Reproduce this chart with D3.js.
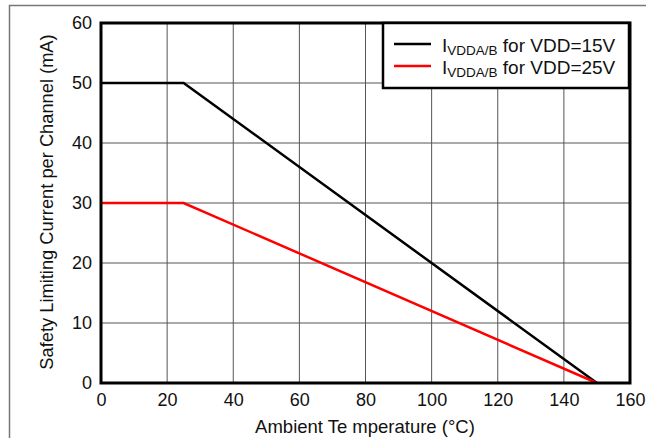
<!DOCTYPE html>
<html lang="en">
<head>
<meta charset="utf-8" />
<title>Safety Limiting Current</title>
<script src="https://d3js.org/d3.v7.min.js"></script>
<style>
  body, html { margin: 0; padding: 0; background: #fff; overflow: hidden; }
  svg { font-family: Arial, "Liberation Sans", sans-serif; display: block; }
  .tick text { font-size: 18px; fill: #111; }
  .grid line { stroke: #555; stroke-width: 1; }
</style>
</head>
<body>
<div id="chart"></div>
<script>
  // data
  const temps = [0, 25, 150];
  const vdd15 = [50, 50, 0];
  const vdd25 = [30, 30, 0];
  const xTicks = [0, 20, 40, 60, 80, 100, 120, 140, 160];
  const yTicks = [0, 10, 20, 30, 40, 50, 60];
  const seriesNames = ["for VDD=15V", "for VDD=25V"];
  const seriesColors = ["#000000", "#ff0000"];

  const W = 646, H = 438;
  const margin = { top: 23, right: 16, bottom: 55, left: 101 };
  const width = 630 - margin.left;
  const height = 383 - margin.top;

  const svg = d3.select("#chart").append("svg")
    .attr("width", W)
    .attr("height", H);

  // outer figure frame (left + top only)
  svg.append("path")
    .attr("d", "M9.5," + H + "V5.5H" + W)
    .attr("fill", "none")
    .attr("stroke", "#777")
    .attr("stroke-width", 1.5);

  const g = svg.append("g")
    .attr("transform", "translate(" + margin.left + "," + margin.top + ")");

  const x = d3.scaleLinear().domain([0, 160]).range([0, width]);
  const y = d3.scaleLinear().domain([0, 60]).range([height, 0]);

  // grid
  g.append("g").attr("class", "grid")
    .selectAll("line.v").data(xTicks.slice(1, -1)).enter().append("line")
    .attr("x1", d => x(d)).attr("x2", d => x(d))
    .attr("y1", 0).attr("y2", height);
  g.append("g").attr("class", "grid")
    .selectAll("line.h").data(yTicks.slice(1, -1)).enter().append("line")
    .attr("x1", 0).attr("x2", width)
    .attr("y1", d => y(d)).attr("y2", d => y(d));

  // axes
  const xAxis = d3.axisBottom(x).tickValues(xTicks).tickSize(0).tickPadding(10);
  g.append("g").attr("transform", "translate(0," + height + ")")
    .call(xAxis)
    .call(a => a.select(".domain").remove());

  const yAxis = d3.axisLeft(y).tickValues(yTicks).tickSize(0).tickPadding(9);
  g.append("g")
    .call(yAxis)
    .call(a => a.select(".domain").remove());

  // series
  const line = d3.line().x(d => x(d[0])).y(d => y(d[1]));
  [vdd15, vdd25].forEach((vals, i) => {
    g.append("path")
      .datum(temps.map((t, k) => [t, vals[k]]))
      .attr("fill", "none")
      .attr("stroke", seriesColors[i])
      .attr("stroke-width", 2.5)
      .attr("d", line);
  });

  // plot frame
  g.append("rect")
    .attr("width", width).attr("height", height)
    .attr("fill", "none")
    .attr("stroke", "#000")
    .attr("stroke-width", 3);

  // legend
  const lg = g.append("g").attr("transform", "translate(" + (383 - margin.left) + ",0)");
  lg.append("rect")
    .attr("width", 629 - 383).attr("height", 65)
    .attr("fill", "#fff")
    .attr("stroke", "#000")
    .attr("stroke-width", 2.5);
  seriesNames.forEach((name, i) => {
    const ly = 21 + i * 22;
    lg.append("line")
      .attr("x1", 11).attr("x2", 48)
      .attr("y1", ly).attr("y2", ly)
      .attr("stroke", seriesColors[i])
      .attr("stroke-width", 2.5);
    const t = lg.append("text")
      .attr("x", 59).attr("y", ly + 8)
      .attr("font-size", 19)
      .attr("fill", "#111");
    t.append("tspan").text("I");
    t.append("tspan").attr("font-size", 13.5).attr("dy", 3).text("VDDA/B");
    t.append("tspan").attr("dy", -3).text(" " + name);
  });

  // axis titles
  const xt = svg.append("text")
    .attr("x", 365).attr("y", 433)
    .attr("text-anchor", "middle")
    .attr("font-size", 18.5)
    .attr("fill", "#111");
  xt.append("tspan").text("Ambient Te");
  xt.append("tspan").attr("dx", 5).text("mperature (°C)");

  svg.append("text")
    .attr("transform", "translate(53," + (margin.top + height / 2 - 1) + ") rotate(-90)")
    .attr("text-anchor", "middle")
    .attr("font-size", 18.3)
    .attr("fill", "#111")
    .text("Safety Limiting Current per Channel (mA)");
</script>
</body>
</html>
